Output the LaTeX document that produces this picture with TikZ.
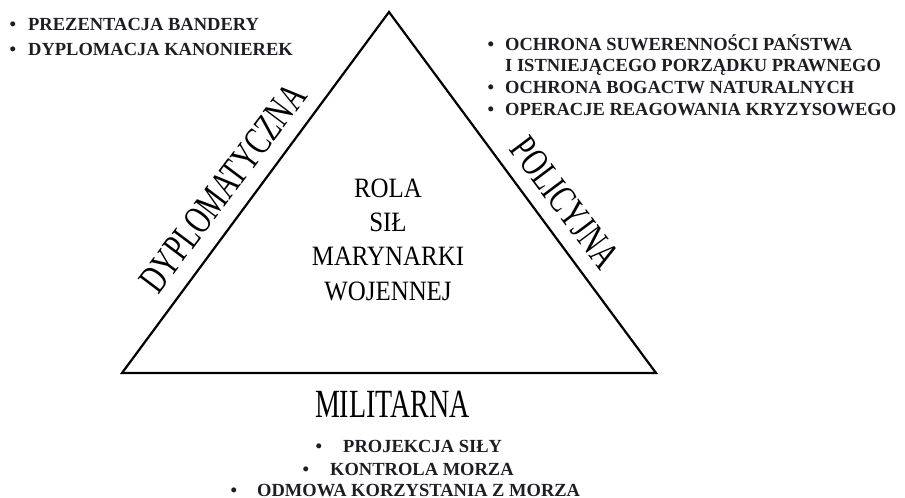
\documentclass[tikz,border=0pt]{standalone}
\usepackage{fontspec}
\setmainfont{Liberation Serif}
\newfontfamily\narrowserif[FakeStretch=0.70]{Liberation Serif}
\newfontfamily\roleserif[FakeStretch=0.89]{Liberation Serif}
\definecolor{ink}{HTML}{1F1D24}
\newcommand{\listfont}{\fontsize{18.5}{21.7}\selectfont\bfseries}
\newcommand{\sidefont}{\narrowserif\fontsize{40}{44}\selectfont}
\newcommand{\corefont}{\roleserif\fontsize{28}{34.3}\selectfont}
\newcommand{\pt}[2][11pt]{\llap{\textbullet\hspace{#1}}#2}
\tikzset{
 side/.style={draw=black,line width=2.2pt,line join=miter},
 item/.style={font=\listfont,text=ink,anchor=base west,inner sep=0pt},
 role/.style={font=\sidefont,inner sep=0pt},
 core/.style={font=\corefont,align=center,inner sep=0pt,anchor=base},
}

\begin{document}
\begin{tikzpicture}[x=1pt,y=-1pt]

\useasboundingbox (0,0) rectangle (905,498);
% triangle
\coordinate (apex) at (389,12);
\coordinate (bl) at (122,373);
\coordinate (br) at (656,373);
\draw[side] (apex) -- (bl) -- (br) -- cycle;
\node[core] (rola) at (388,300) {ROLA\\SIŁ\\MARYNARKI\\WOJENNEJ};
% sides
\node[role,rotate=53] (dyplomatyczna) at (223,188) {DYPLOMATYCZNA};
\node[role,rotate=-53] (policyjna) at (565,203) {POLICYJNA};
\node[role,anchor=base] (militarna) at (392.5,417) {MILITARNA};
% lists
\node[item] (pres) at (28,30.5) {\pt[12pt]{PREZENTACJA BANDERY}};
\node[item] (dypl) at (28,55) {\pt[12pt]{DYPLOMACJA KANONIEREK}};
\node[item] (suwer) at (505,50) {\pt{OCHRONA SUWERENNOŚCI PAŃSTWA}};
\node[item] (porz) at (505,71.7) {I ISTNIEJĄCEGO PORZĄDKU PRAWNEGO};
\node[item] (bogac) at (505,93.3) {\pt{OCHRONA BOGACTW NATURALNYCH}};
\node[item] (kryzys) at (505,115) {\pt{OPERACJE REAGOWANIA KRYZYSOWEGO}};
\node[item] (proj) at (343,452) {\pt[21pt]{PROJEKCJA SIŁY}};
\node[item] (kontr) at (330,475) {\pt[21pt]{KONTROLA MORZA}};
\node[item] (odmow) at (257,496.5) {\pt[20pt]{ODMOWA KORZYSTANIA Z MORZA}};

\end{tikzpicture}
\end{document}
